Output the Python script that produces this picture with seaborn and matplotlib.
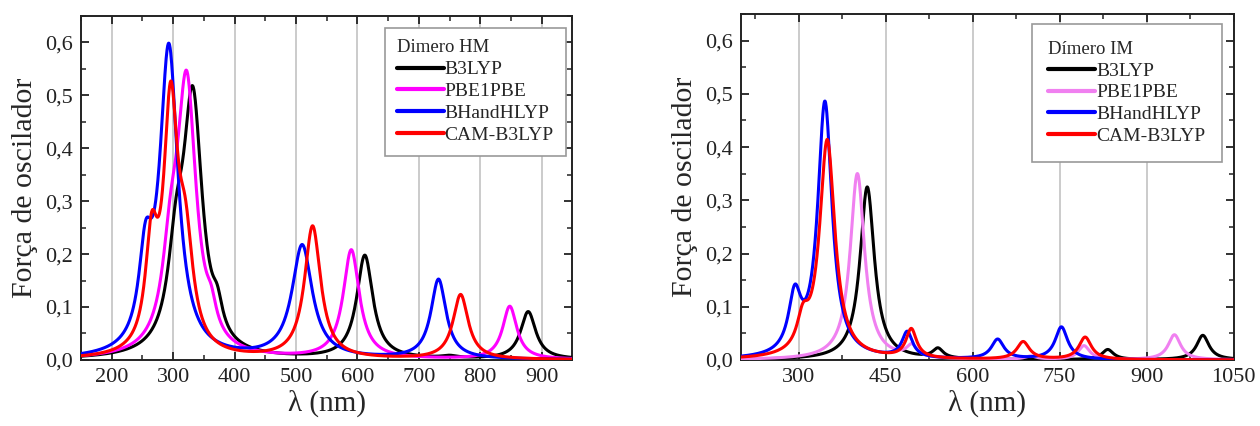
import numpy as np
import pandas as pd
import matplotlib
matplotlib.use("Agg")
import matplotlib.pyplot as plt
import seaborn as sns
from matplotlib.ticker import MultipleLocator, FuncFormatter

# ---------------- data ----------------
methods = ["B3LYP", "PBE1PBE", "BHandHLYP", "CAM-B3LYP"]

# Dimero HM : transition wavelengths (nm), peak heights, half widths (nm)
hm_B3LYP_nm = [305, 332, 372, 612, 750, 878]
hm_B3LYP_f = [0.15, 0.475, 0.045, 0.195, 0.004, 0.090]
hm_B3LYP_w = [16, 19, 10, 16, 15, 15]

hm_PBE_nm = [296, 322, 362, 590, 848]
hm_PBE_f = [0.14, 0.505, 0.04, 0.205, 0.100]
hm_PBE_w = [16, 19, 10, 16, 14]

hm_BH_nm = [255, 293, 510, 732]
hm_BH_f = [0.155, 0.58, 0.213, 0.150]
hm_BH_w = [13, 18, 20, 15]

hm_CAM_nm = [265, 296, 320, 527, 768]
hm_CAM_f = [0.19, 0.45, 0.18, 0.250, 0.122]
hm_CAM_w = [12, 14, 15, 16, 15]

# Dimero IM
im_B3LYP_nm = [418, 540, 833, 997]
im_B3LYP_f = [0.325, 0.018, 0.019, 0.046]
im_B3LYP_w = [15, 11, 12, 13]

im_PBE_nm = [401, 495, 700, 792, 948]
im_PBE_f = [0.35, 0.022, 0.006, 0.026, 0.047]
im_PBE_w = [15, 11, 12, 12, 13]

im_BH_nm = [293, 345, 487, 643, 753]
im_BH_f = [0.105, 0.48, 0.048, 0.037, 0.061]
im_BH_w = [13, 15, 11, 13, 13]

im_CAM_nm = [307, 349, 494, 687, 794]
im_CAM_f = [0.055, 0.41, 0.054, 0.033, 0.042]
im_CAM_w = [12, 16, 11, 13, 13]

hm_x_range = (150, 950)
im_x_range = (200, 1050)
y_range = (0.0, 0.65)

hm_xticks = [200, 300, 400, 500, 600, 700, 800, 900]
im_xticks = [300, 450, 600, 750, 900, 1050]
yticks = [0.0, 0.1, 0.2, 0.3, 0.4, 0.5, 0.6]

hm_title = "Dimero HM"
im_title = "Dímero IM"
xlabel = "λ (nm)"
ylabel = "Força de oscilador"

hm_colors = ["#000000", "#ff00ff", "#0000ff", "#ff0000"]
im_colors = ["#000000", "#f080f0", "#0000ff", "#ff0000"]


def spectrum(x, centers, heights, widths):
    y = np.zeros_like(x)
    for c, h, w in zip(centers, heights, widths):
        y += h * w ** 2 / ((x - c) ** 2 + w ** 2)
    return y


def build(xr, sets):
    x = np.linspace(xr[0], xr[1], 1600)
    frames = []
    for name, (c, h, w) in zip(methods, sets):
        frames.append(pd.DataFrame({"x": x, "y": spectrum(x, c, h, w), "m": name}))
    return pd.concat(frames, ignore_index=True)


df_hm = build(hm_x_range, [(hm_B3LYP_nm, hm_B3LYP_f, hm_B3LYP_w),
                           (hm_PBE_nm, hm_PBE_f, hm_PBE_w),
                           (hm_BH_nm, hm_BH_f, hm_BH_w),
                           (hm_CAM_nm, hm_CAM_f, hm_CAM_w)])
df_im = build(im_x_range, [(im_B3LYP_nm, im_B3LYP_f, im_B3LYP_w),
                           (im_PBE_nm, im_PBE_f, im_PBE_w),
                           (im_BH_nm, im_BH_f, im_BH_w),
                           (im_CAM_nm, im_CAM_f, im_CAM_w)])

# ---------------- plotting ----------------
sns.set_theme(style="ticks")
plt.rcParams["font.family"] = ["Liberation Serif", "DejaVu Serif"]

fig = plt.figure(figsize=(12.6, 4.26), dpi=100)
ax1 = fig.add_axes([0.0643, 0.155, 0.390, 0.808])
ax2 = fig.add_axes([0.588, 0.155, 0.391, 0.812])

comma = FuncFormatter(lambda v, p: f"{v:.1f}".replace(".", ","))

for ax, df, xr, xt, cols, title, mstep, anchor, bpad in [
    (ax1, df_hm, hm_x_range, hm_xticks, hm_colors, hm_title, 50, (0.986, 0.965), 0.6),
    (ax2, df_im, im_x_range, im_xticks, im_colors, im_title, 75, (0.976, 0.971), 0.85),
]:
    for xv in xt:
        ax.axvline(xv, color="#bdbdbd", lw=1.1, zorder=0)
    sns.lineplot(data=df, x="x", y="y", hue="m", hue_order=methods,
                 palette=cols, lw=2.2, ax=ax, legend=True, zorder=3)
    ax.set_xlim(*xr)
    ax.set_ylim(*y_range)
    ax.set_xticks(xt)
    ax.set_yticks(yticks)
    ax.xaxis.set_minor_locator(MultipleLocator(mstep))
    ax.yaxis.set_minor_locator(MultipleLocator(0.05))
    ax.yaxis.set_major_formatter(comma)
    ax.tick_params(which="both", direction="in", top=True, right=True,
                   labelsize=16, colors="#222222")
    ax.tick_params(which="major", length=6, width=1.3, pad=6)
    ax.tick_params(which="minor", length=3.5, width=1.1)
    for s in ax.spines.values():
        s.set_linewidth(1.4)
        s.set_color("#222222")
    ax.set_xlabel(xlabel, fontsize=21, labelpad=2)
    ax.set_ylabel(ylabel, fontsize=21.5, labelpad=5)
    h, l = ax.get_legend_handles_labels()
    leg = ax.legend(h, l, title=title, loc="upper right",
                    bbox_to_anchor=anchor, borderaxespad=0, fontsize=14,
                    title_fontsize=13.5, handlelength=2.4, handletextpad=0.05,
                    labelspacing=0.22, borderpad=bpad, frameon=True,
                    fancybox=False, edgecolor="#999999", framealpha=1)
    leg._legend_box.align = "left"
    leg.get_frame().set_linewidth(1.2)
    for line in leg.get_lines():
        line.set_linewidth(3)

fig.savefig("out.png", dpi=100)
